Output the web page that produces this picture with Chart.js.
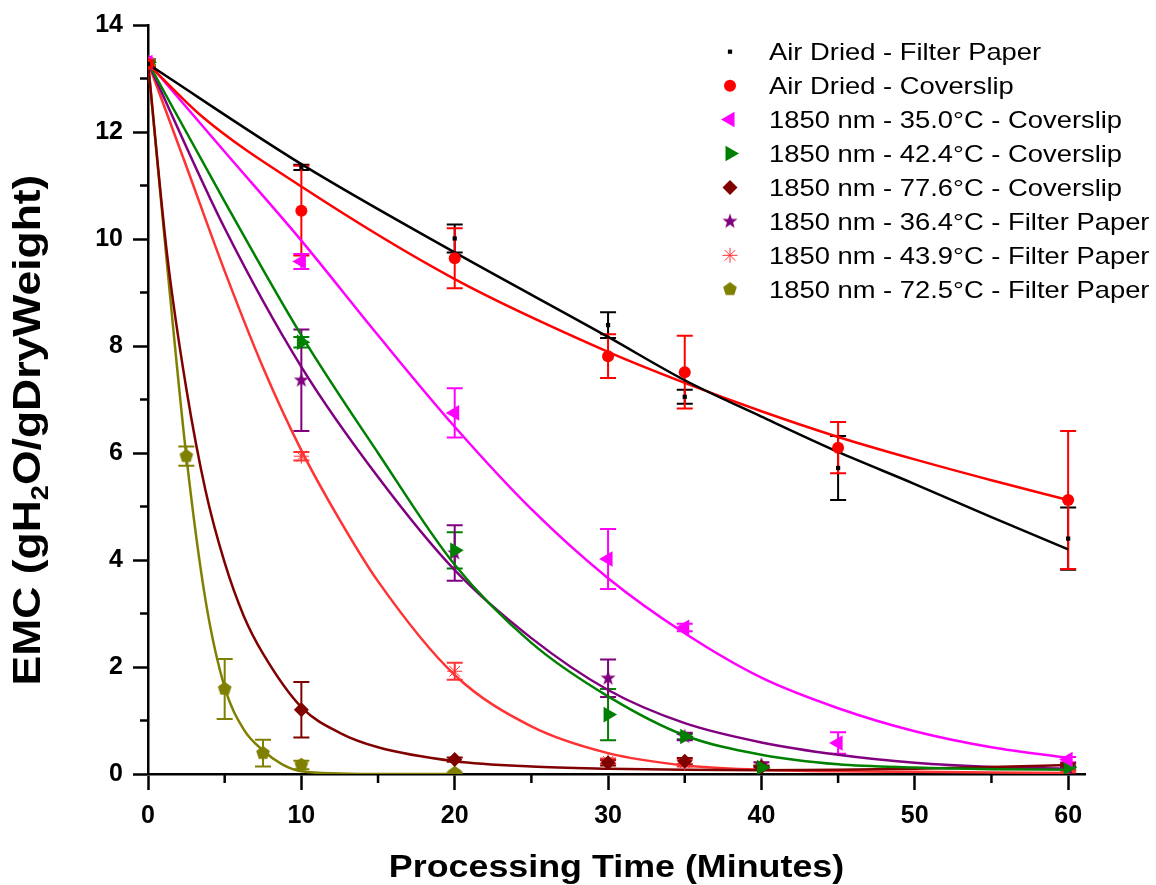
<!DOCTYPE html>
<html>
<head>
<meta charset="utf-8">
<script src="https://cdn.jsdelivr.net/npm/chart.js"></script>
<style>
  html, body { margin: 0; padding: 0; background: #fff; }
</style>
</head>
<body>
<canvas id="chart" width="1156" height="885"></canvas>
<script>
// axis ticks
const xTickValues = [0, 10, 20, 30, 40, 50, 60];
const yTickValues = [0, 2, 4, 6, 8, 10, 12, 14];
const xMinorTicks = [5, 15, 25, 35, 45, 55];
const yMinorTicks = [1, 3, 5, 7, 9, 11, 13];

const seriesNames = [
  'Air Dried - Filter Paper',
  'Air Dried - Coverslip',
  '1850 nm - 35.0°C - Coverslip',
  '1850 nm - 42.4°C - Coverslip',
  '1850 nm - 77.6°C - Coverslip',
  '1850 nm - 36.4°C - Filter Paper',
  '1850 nm - 43.9°C - Filter Paper',
  '1850 nm - 72.5°C - Filter Paper'
];
const seriesColors = ['#000000', '#FF0000', '#FF00FF', '#008000', '#800000', '#800080', '#FF3333', '#808000'];

// measured points (minutes, EMC, error)
const airFilterT = [0, 10, 20, 30, 35, 45, 60];
const airFilterY = [13.27, 11.34, 10.01, 8.39, 7.05, 5.72, 4.40];
const airFilterErr = [0.05, 0.05, 0.26, 0.24, 0.13, 0.60, 0.58];

const airCoverT = [0, 10, 20, 30, 35, 45, 60];
const airCoverY = [13.27, 10.53, 9.64, 7.81, 7.51, 6.10, 5.12];
const airCoverErr = [0.05, 0.84, 0.56, 0.41, 0.68, 0.48, 1.29];

const c350T = [0, 10, 20, 30, 35, 45, 60];
const c350Y = [13.3, 9.58, 6.75, 4.02, 2.74, 0.58, 0.27];
const c350Err = [0.05, 0.14, 0.46, 0.56, 0.07, 0.20, 0.05];

const c424T = [0, 10, 20, 30, 35, 40, 60];
const c424Y = [13.3, 8.07, 4.18, 1.11, 0.70, 0.12, 0.12];
const c424Err = [0.05, 0.10, 0.34, 0.48, 0.05, 0.03, 0.04];

const c776T = [0, 10, 20, 30, 35, 40, 60];
const c776Y = [13.3, 1.20, 0.27, 0.21, 0.24, 0.13, 0.16];
const c776Err = [0.05, 0.52, 0.04, 0.05, 0.06, 0.03, 0.04];

const f364T = [0, 10, 20, 30, 35, 40, 60];
const f364Y = [13.3, 7.36, 4.13, 1.79, 0.70, 0.17, 0.10];
const f364Err = [0.05, 0.95, 0.52, 0.35, 0.07, 0.05, 0.03];

const f439T = [0, 10, 20, 30, 35, 60];
const f439Y = [13.3, 5.94, 1.92, 0.24, 0.20, 0.05];
const f439Err = [0.05, 0.08, 0.16, 0.05, 0.06, 0.02];

const f725T = [0, 2.5, 5, 7.5, 10, 20];
const f725Y = [13.3, 5.94, 1.59, 0.39, 0.17, 0.02];
const f725Err = [0.05, 0.18, 0.56, 0.25, 0.08, 0.01];

// fitted curves
const airFilterFitT = [0, 10, 20, 30, 35, 40, 45, 50, 55, 60];
const airFilterFitY = [13.27, 11.40, 9.75, 8.17, 7.36, 6.68, 6.02, 5.42, 4.80, 4.20];

const airCoverFitT = [0, 3.6, 10, 20, 30, 35, 40, 45, 50, 55, 60];
const airCoverFitY = [13.27, 12.27, 10.98, 9.25, 7.89, 7.31, 6.78, 6.30, 5.88, 5.49, 5.12];

const fitT = [0, 5, 10, 15, 20, 25, 30, 35, 40, 45, 50, 55, 60];
const c350FitY = [13.3, 11.63, 9.97, 8.2, 6.49, 4.95, 3.66, 2.63, 1.80, 1.23, 0.80, 0.50, 0.30];
const c424FitY = [13.3, 10.7, 8.2, 6.0, 3.91, 2.45, 1.45, 0.72, 0.36, 0.18, 0.12, 0.09, 0.08];
const f364FitY = [13.3, 10.2, 7.61, 5.55, 3.81, 2.54, 1.57, 0.95, 0.59, 0.36, 0.21, 0.13, 0.10];

const f439FitT = [0, 2.5, 5, 7.5, 10, 12.5, 15, 20, 25, 30, 35, 40, 45, 50, 55, 60];
const f439FitY = [13.3, 11.36, 9.4, 7.6, 6.05, 4.75, 3.6, 1.85, 0.89, 0.39, 0.16, 0.08, 0.05, 0.04, 0.03, 0.02];

const c776FitT = [0, 1.25, 2.5, 3.75, 5, 6.25, 7.5, 10, 12.5, 15, 20, 25, 30, 35, 40, 45, 50, 55, 60];
const c776FitY = [13.3, 9.7, 7.2, 5.3, 3.95, 2.95, 2.25, 1.25, 0.77, 0.5, 0.24, 0.14, 0.10, 0.08, 0.07, 0.08, 0.10, 0.13, 0.17];

const f725FitT = [0, 1.25, 2.5, 3.75, 5, 6.25, 7.5, 8.75, 10, 12.5, 15, 20];
const f725FitY = [13.3, 9.5, 5.94, 3.25, 1.62, 0.83, 0.44, 0.18, 0.05, 0.01, 0, 0];

const fontFamily = '"Liberation Sans", Arial, sans-serif';

function makeMarker(color, points) {
  const c = document.createElement('canvas');
  c.width = 18;
  c.height = 18;
  const g = c.getContext('2d');
  g.fillStyle = color;
  g.translate(9, 9);
  g.beginPath();
  points.forEach(p => g.lineTo(p[0], p[1]));
  g.closePath();
  g.fill();
  return c;
}

const starPts = [];
for (let i = 0; i < 10; i++) {
  const r = i % 2 ? 3.2 : 8;
  const a = -Math.PI / 2 + i * Math.PI / 5;
  starPts.push([r * Math.cos(a), r * Math.sin(a)]);
}
const pentPts = [];
for (let i = 0; i < 5; i++) {
  const a = -Math.PI / 2 + i * 2 * Math.PI / 5;
  pentPts.push([7.2 * Math.cos(a), 7.2 * Math.sin(a)]);
}
const starMarker = makeMarker('#800080', starPts);
const pentMarker = makeMarker('#808000', pentPts);

function pointSet(i, xs, ys, errs, style, radius, rotation) {
  return {
    label: seriesNames[i],
    data: xs.map((x, k) => ({ x: x, y: ys[k] })),
    errors: errs,
    showLine: false,
    pointStyle: style,
    pointRadius: radius,
    pointRotation: rotation || 0,
    pointBackgroundColor: seriesColors[i],
    pointBorderColor: seriesColors[i],
    pointBorderWidth: style === 'star' ? 1 : 0,
    borderColor: seriesColors[i],
    backgroundColor: seriesColors[i],
    order: 0
  };
}

function fitSet(i, xs, ys) {
  return {
    label: seriesNames[i] + ' fit',
    data: xs.map((x, k) => ({ x: x, y: ys[k] })),
    showLine: true,
    pointRadius: 0,
    borderColor: seriesColors[i],
    borderWidth: 2.5,
    cubicInterpolationMode: 'monotone',
    fill: false,
    order: 1
  };
}

const pointSets = [
  pointSet(0, airFilterT, airFilterY, airFilterErr, 'rect', 3),
  pointSet(1, airCoverT, airCoverY, airCoverErr, 'circle', 6),
  pointSet(2, c350T, c350Y, c350Err, 'triangle', 9, 270),
  pointSet(3, c424T, c424Y, c424Err, 'triangle', 9, 90),
  pointSet(4, c776T, c776Y, c776Err, 'rectRot', 7.5),
  pointSet(5, f364T, f364Y, f364Err, starMarker, 8),
  pointSet(6, f439T, f439Y, f439Err, 'star', 7.5),
  pointSet(7, f725T, f725Y, f725Err, pentMarker, 8)
];

const fitSets = [
  fitSet(0, airFilterFitT, airFilterFitY),
  fitSet(1, airCoverFitT, airCoverFitY),
  fitSet(2, fitT, c350FitY),
  fitSet(3, fitT, c424FitY),
  fitSet(4, c776FitT, c776FitY),
  fitSet(5, fitT, f364FitY),
  fitSet(6, f439FitT, f439FitY),
  fitSet(7, f725FitT, f725FitY)
];

const errorBars = {
  id: 'errorBars',
  beforeDatasetsDraw(chart) {
    const ctx = chart.ctx;
    const ys = chart.scales.y;
    const area = chart.chartArea;
    ctx.save();
    ctx.beginPath();
    ctx.rect(area.left, area.top, area.right - area.left, area.bottom - area.top);
    ctx.clip();
    ctx.lineWidth = 2;
    chart.data.datasets.forEach((ds, i) => {
      if (!ds.errors) return;
      const meta = chart.getDatasetMeta(i);
      ctx.strokeStyle = ds.borderColor;
      meta.data.forEach((pt, k) => {
        const e = ds.errors[k];
        if (!e) return;
        const v = ds.data[k].y;
        const top = ys.getPixelForValue(v + e);
        const bot = ys.getPixelForValue(v - e);
        ctx.beginPath();
        ctx.moveTo(pt.x, top);
        ctx.lineTo(pt.x, bot);
        ctx.moveTo(pt.x - 8, top);
        ctx.lineTo(pt.x + 8, top);
        ctx.moveTo(pt.x - 8, bot);
        ctx.lineTo(pt.x + 8, bot);
        ctx.stroke();
      });
    });
    ctx.restore();
  }
};

const axisExtras = {
  id: 'axisExtras',
  afterDraw(chart) {
    const ctx = chart.ctx;
    const area = chart.chartArea;
    const xs = chart.scales.x;
    const ys = chart.scales.y;
    ctx.save();
    ctx.strokeStyle = '#000';
    ctx.lineWidth = 2.5;
    yMinorTicks.forEach(v => {
      const py = ys.getPixelForValue(v);
      ctx.beginPath();
      ctx.moveTo(area.left - 8, py);
      ctx.lineTo(area.left, py);
      ctx.stroke();
    });
    xMinorTicks.forEach(v => {
      const px = xs.getPixelForValue(v);
      ctx.beginPath();
      ctx.moveTo(px, area.bottom);
      ctx.lineTo(px, area.bottom + 9);
      ctx.stroke();
    });

    ctx.fillStyle = '#000';
    ctx.textBaseline = 'alphabetic';

    // x title
    ctx.save();
    ctx.translate((area.left + area.right) / 2, 877);
    ctx.scale(1.12, 1);
    ctx.font = 'bold 32px ' + fontFamily;
    ctx.textAlign = 'center';
    ctx.fillText('Processing Time (Minutes)', 0, 0);
    ctx.restore();

    // y title with subscript 2
    ctx.save();
    ctx.translate(40, 430);
    ctx.rotate(-Math.PI / 2);
    ctx.scale(1.14, 1);
    ctx.textAlign = 'left';
    const big = 'bold 39px ' + fontFamily;
    const small = 'bold 24px ' + fontFamily;
    const parts = [['EMC (gH', big, 0], ['2', small, 8], ['O/gDryWeight)', big, 0]];
    let total = 0;
    parts.forEach(p => { ctx.font = p[1]; total += ctx.measureText(p[0]).width; });
    let pos = -total / 2;
    parts.forEach(p => {
      ctx.font = p[1];
      ctx.fillText(p[0], pos, p[2]);
      pos += ctx.measureText(p[0]).width;
    });
    ctx.restore();

    // legend
    pointSets.forEach((ds, i) => {
      const cy = 51.7 + i * 33.94;
      ctx.save();
      ctx.fillStyle = ds.pointBackgroundColor;
      ctx.strokeStyle = ds.pointBorderColor;
      ctx.lineWidth = ds.pointBorderWidth;
      Chart.helpers.drawPoint(ctx, {
        pointStyle: ds.pointStyle,
        radius: ds.pointRadius,
        rotation: ds.pointRotation,
        borderWidth: ds.pointBorderWidth
      }, 730, cy);
      ctx.restore();
      ctx.save();
      ctx.translate(769, cy + 8.5);
      ctx.scale(1.14, 1);
      ctx.font = '24px ' + fontFamily;
      ctx.fillStyle = '#000';
      ctx.textAlign = 'left';
      ctx.fillText(ds.label, 0, 0);
      ctx.restore();
    });
    ctx.restore();
  }
};

new Chart(document.getElementById('chart').getContext('2d'), {
  type: 'scatter',
  data: { datasets: pointSets.concat(fitSets) },
  plugins: [errorBars, axisExtras],
  options: {
    responsive: false,
    animation: false,
    devicePixelRatio: 1,
    layout: { padding: { left: 0, top: 24, right: 71, bottom: 0 } },
    plugins: {
      legend: { display: false },
      tooltip: { enabled: false }
    },
    scales: {
      x: {
        type: 'linear',
        min: 0,
        max: 61.1,
        afterBuildTicks: s => { s.ticks = xTickValues.map(v => ({ value: v })); },
        afterFit: s => { s.height = 111; },
        border: { color: '#000', width: 2.5 },
        grid: { drawOnChartArea: false, tickLength: 16, tickWidth: 2.5, tickColor: '#000' },
        ticks: {
          color: '#000',
          padding: 11,
          maxRotation: 0,
          autoSkip: false,
          font: { family: fontFamily, size: 25, weight: 'bold' }
        }
      },
      y: {
        type: 'linear',
        min: 0,
        max: 14,
        afterBuildTicks: s => { s.ticks = yTickValues.map(v => ({ value: v })); },
        afterFit: s => { s.width = 148; },
        border: { color: '#000', width: 2.5 },
        grid: { drawOnChartArea: false, tickLength: 15, tickWidth: 2.5, tickColor: '#000' },
        ticks: {
          color: '#000',
          padding: 10,
          autoSkip: false,
          font: { family: fontFamily, size: 25, weight: 'bold' }
        }
      }
    }
  }
});
</script>
</body>
</html>
